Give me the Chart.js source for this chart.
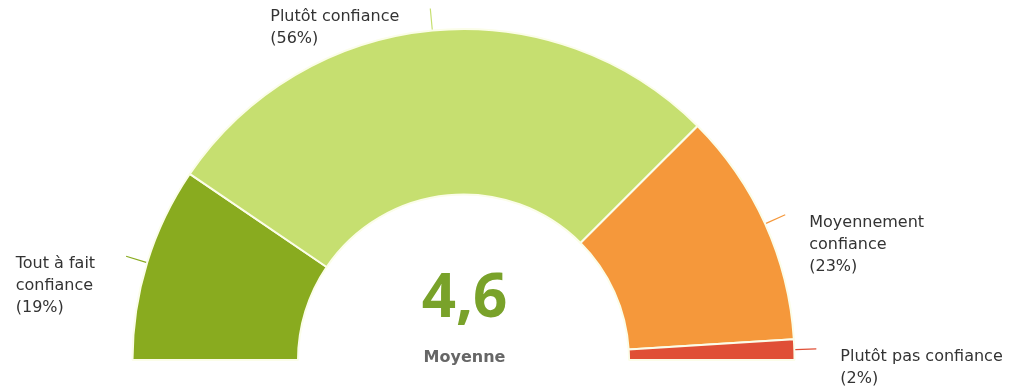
<!DOCTYPE html>
<html>
<head>
<meta charset="utf-8">
<script src="https://cdn.jsdelivr.net/npm/chart.js@4.4.1/dist/chart.umd.min.js"></script>
<style>
  html, body { margin: 0; padding: 0; background: #fff; }
  #wrap { width: 1019px; height: 387px; }
</style>
</head>
<body>
<div id="wrap"><canvas id="gauge" width="1019" height="387"></canvas></div>
<script>
// answers to the trust question, left to right along the half ring
const categories = ['Tout à fait confiance', 'Plutôt confiance', 'Moyennement confiance', 'Plutôt pas confiance'];
const labelLines = [['Tout à fait', 'confiance'], ['Plutôt confiance'], ['Moyennement', 'confiance'], ['Plutôt pas confiance']];
const shares = [19, 56, 23, 2];
const sliceColors = ['#89ab1f', '#c6df70', '#f5983b', '#e04f36'];
const averageScore = '4,6';
const averageLabel = 'Moyenne';

const labelFont = '16px "DejaVu Sans", Verdana, sans-serif';

// outside labels with a short connector from each slice
const sliceLabels = {
    id: 'sliceLabels',
    afterDatasetsDraw(chart) {
        const ctx = chart.ctx;
        const arcs = chart.getDatasetMeta(0).data;
        ctx.save();
        arcs.forEach((arc, i) => {
            const { x, y, startAngle, endAngle, outerRadius } = arc.getProps(['x', 'y', 'startAngle', 'endAngle', 'outerRadius'], true);
            const mid = (startAngle + endAngle) / 2;
            const cos = Math.cos(mid), sin = Math.sin(mid);
            const p0 = { x: x + cos * (outerRadius + 1), y: y + sin * (outerRadius + 1) };
            const p1 = { x: x + cos * (outerRadius + 22), y: y + sin * (outerRadius + 22) };
            ctx.strokeStyle = sliceColors[i];
            ctx.lineWidth = 1.2;
            ctx.beginPath();
            ctx.moveTo(p0.x, p0.y);
            ctx.lineTo(p1.x, p1.y);
            ctx.stroke();

            const lines = labelLines[i].concat(['(' + shares[i] + '%)']);
            ctx.font = labelFont;
            ctx.fillStyle = '#333';
            ctx.textAlign = 'left';
            ctx.textBaseline = 'alphabetic';
            const w = Math.max(...lines.map(l => ctx.measureText(l).width));
            const left = p1.x < x ? p1.x - 31 - w : p1.x + 24;
            lines.forEach((l, k) => ctx.fillText(l, left, p1.y + 12 + k * 22));
        });
        ctx.restore();
    }
};

// average score in the hole of the ring
const centerScore = {
    id: 'centerScore',
    afterDraw(chart) {
        const ctx = chart.ctx;
        const arc = chart.getDatasetMeta(0).data[0];
        ctx.save();
        ctx.textAlign = 'center';
        ctx.textBaseline = 'alphabetic';
        ctx.fillStyle = '#79a22a';
        ctx.font = 'bold 60px "Open Sans", sans-serif';
        ctx.fillText(averageScore, arc.x + 1, arc.y - 43);
        ctx.fillStyle = '#666';
        ctx.font = 'bold 16px "DejaVu Sans", sans-serif';
        ctx.fillText(averageLabel, arc.x + 1, arc.y + 2);
        ctx.restore();
    }
};

new Chart(document.getElementById('gauge'), {
    type: 'doughnut',
    data: {
        labels: categories,
        datasets: [{
            data: shares,
            backgroundColor: sliceColors,
            borderColor: '#fbfde9',
            borderWidth: 2
        }]
    },
    options: {
        responsive: false,
        animation: false,
        rotation: -90,
        circumference: 180,
        cutout: '50%',
        layout: { padding: { left: 131, right: 223, top: 28, bottom: 26 } },
        plugins: { legend: { display: false }, tooltip: { enabled: false } }
    },
    plugins: [sliceLabels, centerScore]
});
</script>
</body>
</html>
